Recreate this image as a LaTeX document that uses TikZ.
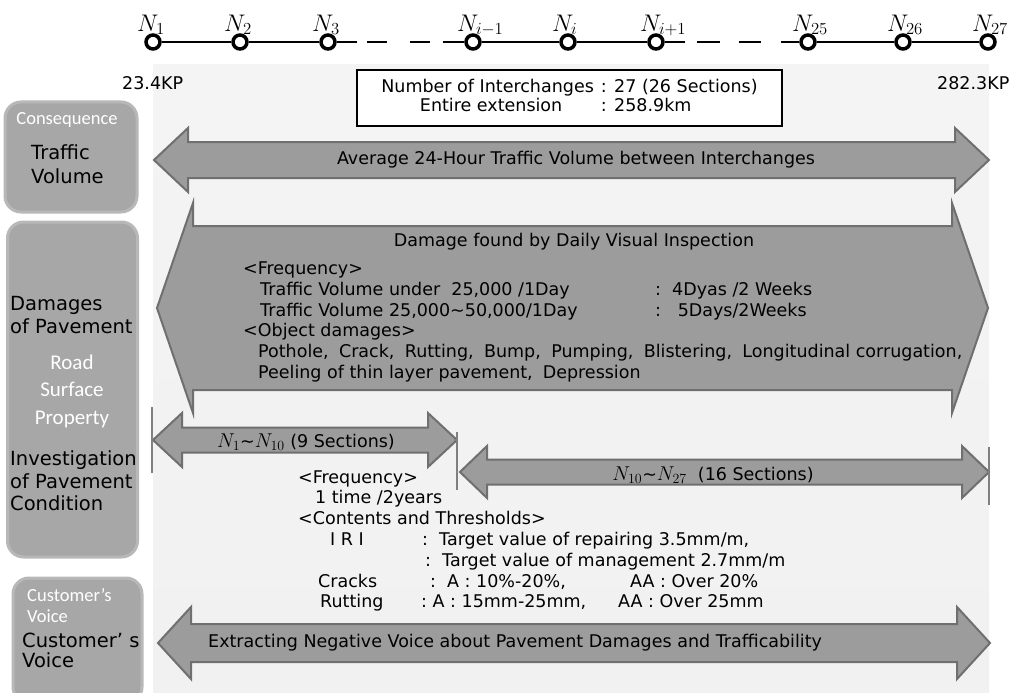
\RequirePackage{fix-cm}
\documentclass[tikz,border=0pt]{standalone}
\usepackage{fontspec}
\setmainfont{DejaVu Sans}
\newfontfamily\calib{Carlito}
\usepackage{xcolor}
\usepackage{tikz}
\definecolor{bgtop}{HTML}{F4F4F4}
\definecolor{bgmid}{HTML}{CCCCCC}
\definecolor{bgbot}{HTML}{F1F1F1}
\definecolor{arwfill}{HTML}{9C9C9C}
\definecolor{arwline}{HTML}{6F6F6F}
\definecolor{catfill}{HTML}{A7A7A7}
\definecolor{catedge}{HTML}{B8B8B8}
% x1, x2, y, shaft half, head half, head length
\newcommand{\dblarrow}[6]{%
  \draw[arw] (#1,#3) -- ({#1+#6},{#3-#5}) -- ({#1+#6},{#3-#4}) -- ({#2-#6},{#3-#4})
    -- ({#2-#6},{#3-#5}) -- (#2,#3) -- ({#2-#6},{#3+#5}) -- ({#2-#6},{#3+#4})
    -- ({#1+#6},{#3+#4}) -- ({#1+#6},{#3+#5}) -- cycle;}
\newcommand{\bigN}[1]{{\fontsize{20}{20}\selectfont$#1$}}

\begin{document}
\begin{tikzpicture}[x=1pt,y=-1pt,
  ic/.style={circle,draw,line width=3.5pt,fill=white,minimum size=14pt,inner sep=0pt},
  lbl/.style={anchor=base west,xshift=-16pt,yshift=2pt,inner sep=0pt,font=\fontsize{24}{24}\selectfont},
  track/.style={line width=2.6pt},
  arw/.style={fill=arwfill,draw=arwline,line width=2pt,line join=miter},
  vline/.style={draw=black!50,line width=1.3pt},
  txt/.style={inner sep=0pt,font=\fontsize{17.5}{20.8}\selectfont},
  cat/.style={fill=catfill,draw=catedge,line width=3pt,rounded corners=16pt},
  catb/.style={inner sep=0pt,align=left,font=\fontsize{19.5}{23.5}\selectfont},
  catw/.style={inner sep=0pt,text=white,font=\calib\fontsize{18.5}{21}\selectfont}]
\useasboundingbox (0,0) rectangle (1029,693);
\shade[top color=bgtop,middle color=bgmid,bottom color=bgbot] (153,65) rectangle (989,693);%背景

% インターチェンジ
\node[ic,label={[lbl]above:$N_1$}] (N1) at (153,42) {};
\node[ic,label={[lbl]above:$N_2$}] (N2) at (240,42) {};
\node[ic,label={[lbl]above:$N_3$}] (N3) at (328,42) {};
\node[ic,label={[lbl]above:$N_{i-1}$}] (Nim) at (473,42) {};
\node[ic,label={[lbl]above:$N_i$}] (Ni) at (568,42) {};
\node[ic,label={[lbl]above:$N_{i+1}$}] (Nip) at (656,42) {};
\node[ic,label={[lbl]above:$N_{25}$}] (N25) at (808,42) {};
\node[ic,label={[lbl]above:$N_{26}$}] (N26) at (903,42) {};
\node[ic,label={[lbl]above:$N_{27}$}] (N27) at (988,42) {};
\draw[track] (N1) -- (N2);
\draw[track] (N2) -- (N3);
\draw[track,dash pattern=on 20.25pt off 10pt on 20pt off 23pt on 20pt off 13pt on 21.25pt] (N3) -- (Nim);
\draw[track] (Nim) -- (Ni);
\draw[track] (Ni) -- (Nip);
\draw[track,dash pattern=on 20.25pt off 12pt on 23pt off 19pt on 22pt off 20pt on 18.25pt] (Nip) -- (N25);
\draw[track] (N25) -- (N26);
\draw[track] (N26) -- (N27);
\node[txt,anchor=west] (kp1) at (122,83) {23.4KP};
\node[txt,anchor=west] (kp2) at (937,83) {282.3KP};
\node[draw,line width=1.2pt,fill=white,minimum width=425pt,minimum height=56pt,inner sep=0pt] (info) at (569.5,98)
  {\fontsize{17.5}{19}\selectfont\begin{tabular}{@{}c@{}l@{}}Number of Interchanges\hspace{7pt} & : 27 (26 Sections)\\ Entire extension & : 258.9km\end{tabular}};

% 矢印
\dblarrow{154}{989}{160}{18}{32}{34}%交通量
\dblarrow{157}{988}{308}{82}{105}{36}%日常点検
\dblarrow{153}{457}{440}{12.5}{27}{29}
\dblarrow{460}{989}{472}{12.5}{26}{27}
\dblarrow{158}{990}{643}{19}{36}{33}%お客様の声
\draw[vline] (152,407) -- (152,473);
\draw[vline] (457,432) -- (457,490);
\draw[vline] (989,447) -- (989,505);

\node[txt] (tvtxt) at (576,160) {Average 24-Hour Traffic Volume between Interchanges};
\node[txt] (dmgttl) at (574,242) {Damage found by Daily Visual Inspection};
\node[txt,align=left,anchor=west] (dmgtxt) at (243,322) {<Frequency>\\
  \hspace*{17pt}\makebox[395pt][l]{Traffic Volume under\ \ 25,000 /1Day}:\ \ 4Dyas /2 Weeks\\
  \hspace*{17pt}\makebox[395pt][l]{Traffic Volume 25,000\textasciitilde 50,000/1Day}:\ \ \ 5Days/2Weeks\\
  <Object damages>\\
  \hspace*{15pt}\makebox[704pt][s]{Pothole,\hfill Crack,\hfill Rutting,\hfill Bump,\hfill Pumping,\hfill Blistering,\hfill Longitudinal corrugation,}\\
  \hspace*{15pt}Peeling of thin layer pavement,\hspace{10pt}Depression};
\node[txt] (sec1) at (306,442) {\bigN{N_1}\textasciitilde\bigN{N_{10}}\ (9 Sections)};
\node[txt] (sec2) at (713,475) {\bigN{N_{10}}\textasciitilde\bigN{N_{27}}\ \ (16 Sections)};
\node[txt,align=left,anchor=west] (invtxt) at (298,541) {<Frequency>\\
  \hspace*{17pt}1 time /2years\\
  <Contents and Thresholds>\\
  \hspace*{32pt}\makebox[92pt][l]{I R I}:\ \ Target value of repairing 3.5mm/m,\\
  \hspace*{127pt}:\ \ Target value of management 2.7mm/m\\
  \hspace*{20pt}\makebox[112pt][l]{Cracks}\makebox[200pt][l]{:\ \ A : 10\%-20\%,}AA : Over 20\%\\
  \hspace*{22pt}\makebox[101pt][l]{Rutting}\makebox[197pt][l]{:\ A : 15mm-25mm,}AA : Over 25mm};
\node[txt,anchor=west] (cvtxt) at (208,643) {Extracting Negative Voice about Pavement Damages and Trafficability};

% 左の項目
\node[cat,minimum width=132pt,minimum height=110pt] (tvbox) at (71,157) {};
\node[cat,minimum width=130pt,minimum height=335pt] (pvbox) at (72.5,389.5) {};
\node[cat,minimum width=129pt,minimum height=125pt] (cvbox) at (77.5,640.5) {};
\node[catw] (tvsub) at (67,120) {Consequence};
\node[catb,anchor=west] (tvlbl) at (31,164) {Traffic\\Volume};
\node[catb,anchor=west] (dplbl) at (10,315) {Damages\\of Pavement};
\node[catw,align=center,font=\calib\fontsize{21}{27.5}\selectfont] (rslbl) at (72,391) {Road\\Surface\\Property};
\node[catb,anchor=west,font=\fontsize{19.5}{22.5}\selectfont] (iplbl) at (10,481) {Investigation\\of Pavement\\Condition};
\node[catw,align=left,anchor=west] (cvsub) at (27,606) {Customer’s\\Voice};
\node[catb,anchor=west,font=\fontsize{19.5}{20}\selectfont] (cvlbl) at (22,650) {Customer’ s\\Voice};
\end{tikzpicture}
\end{document}
